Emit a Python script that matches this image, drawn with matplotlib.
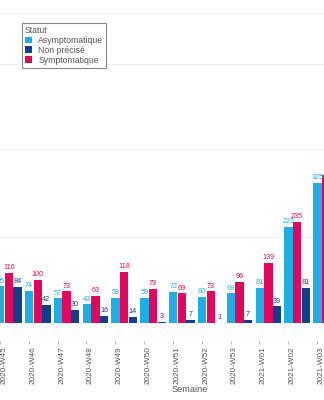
import numpy as np
import matplotlib
matplotlib.use("Agg")
import matplotlib.pyplot as plt
import matplotlib.transforms as mtransforms
from matplotlib.patches import Patch

weeks = ['2020-W45', '2020-W46', '2020-W47', '2020-W48', '2020-W49', '2020-W50',
         '2020-W51', '2020-W52', '2020-W53', '2021-W01', '2021-W02', '2021-W03']
asym = [85, 74, 57, 43, 58, 59, 72, 60, 69, 81, 223, 325]
sympt = [116, 100, 73, 63, 118, 79, 69, 73, 96, 139, 235, 343]
non = [84, 42, 30, 16, 14, 3, 7, 1, 7, 39, 81, np.nan]

c_asym = '#1DAEE3'
c_non = '#123F8C'
c_sym = '#E2075C'
txt = '#555555'

plt.rcParams['font.family'] = ['Liberation Sans', 'DejaVu Sans']

W, H = 324, 400
fig = plt.figure(figsize=(W / 100, H / 100), dpi=100)
gw = 29.0  # px per group
x0 = 7.0   # px of first group centre
ax_bottom, ax_top = 323, 14
ax = fig.add_axes([0, (H - ax_bottom) / H, 1, (ax_bottom - ax_top) / H])

x = np.arange(len(weeks))
bw = 0.29
ax.bar(x - 0.30, asym, bw, color=c_asym, zorder=3)
ax.bar(x, sympt, bw, color=c_sym, zorder=3)
ax.bar(x + 0.30, non, bw, color=c_non, zorder=3)

for xs, vals, col in [(x - 0.30, asym, c_asym), (x, sympt, c_sym), (x + 0.30, non, c_non)]:
    for xi, v in zip(xs, vals):
        if np.isnan(v):
            continue
        ax.annotate(f"{int(v)}", (xi, v), xytext=(0, 1.2), textcoords='offset points',
                    ha='center', va='bottom', fontsize=5.2, color=col, zorder=4)

ax.set_xlim(-x0 / gw, (W - x0) / gw)
ax.set_ylim(0, 716)

for s in ['left', 'right', 'bottom']:
    ax.spines[s].set_visible(False)
ax.spines['top'].set_color('#f0f0f0')
ax.spines['top'].set_linewidth(0.8)

ax.set_yticks([200, 400, 600])
ax.yaxis.grid(True, color='#efefef', linewidth=0.8)
ax.tick_params(axis='y', left=False, labelleft=False)
ax.set_axisbelow(True)
ax.axhline(0, color='#dddddd', linewidth=0.8, zorder=2)

ax.spines['bottom'].set_position(('outward', 13))
ax.set_xticks(x - 9 / gw)
ax.set_xticklabels(weeks, rotation=90, fontsize=5.9, color=txt)
ax.tick_params(axis='x', length=2.5, width=0.6, color='#aaaaaa', pad=1.5)
offset = mtransforms.ScaledTranslation(4 / 100, 0, fig.dpi_scale_trans)
for lab in ax.get_xticklabels():
    lab.set_transform(lab.get_transform() + offset)

fig.text(190 / W, (H - 390) / H, 'Semaine', ha='center', va='center', fontsize=6.6, color=txt)

handles = [Patch(facecolor=c_asym), Patch(facecolor=c_non), Patch(facecolor=c_sym)]
leg = fig.legend(handles, ['Asymptomatique', 'Non précisé', 'Symptomatique'],
                 title='Statut', loc='upper left', bbox_to_anchor=(22 / W, 1 - 23 / H),
                 fontsize=6.3, title_fontsize=6.3, frameon=True, fancybox=False,
                 edgecolor='#888888', framealpha=1, handlelength=0.8, handleheight=0.8,
                 handletextpad=0.7, labelspacing=0.1, borderpad=0.35, borderaxespad=0,
                 alignment='left')
leg.get_frame().set_linewidth(0.8)
for t in leg.get_texts():
    t.set_color(txt)
leg.get_title().set_color(txt)

fig.savefig('out.png', dpi=100)
